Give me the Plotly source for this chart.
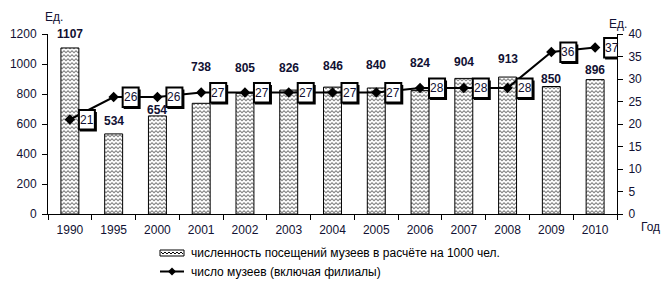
import plotly.graph_objects as go

years = ["1990", "1995", "2000", "2001", "2002", "2003", "2004", "2005",
         "2006", "2007", "2008", "2009", "2010"]
visits = [1107, 534, 654, 738, 805, 826, 846, 840, 824, 904, 913, 850, 896]
museums = [21, 26, 26, 27, 27, 27, 27, 27, 28, 28, 28, 36, 37]
bar_name = "численность посещений музеев в расчёте на 1000 чел."
line_name = "число музеев (включая филиалы)"

# vertical pixel lift of each bar label above its bar top (layout only)
label_lift = [14, 13, 6, 36, 25, 22, 21, 23, 27, 16, 18, 8, 10]

FONT = "Liberation Sans, Arial, sans-serif"
TXT = "#111133"

# page has an 8px body margin; plot area on screen: x 48..617, y 34..214
def px(x):
    return (x - 48) / 569.0

def py(y):
    return (214 - y) / 180.0

pattern = dict(shape="x", size=5, solidity=0.3, fgcolor="black", bgcolor="white")
try:
    go.bar.marker.Pattern(path="M0,0L2,2L4,0Z", size=4)
    pattern = dict(path="M0,0L2,2L4,0L4,1.5L2,3.5L0,1.5Z", size=4,
                   fgcolor="black", bgcolor="white", solidity=0.5)
except Exception:
    pass

fig = go.Figure()
fig.add_trace(go.Bar(
    x=years, y=visits, name=bar_name, width=0.41, showlegend=False,
    marker=dict(color="white", line=dict(color="black", width=1), pattern=pattern),
))
fig.add_trace(go.Scatter(
    x=years, y=museums, yaxis="y2", name=line_name, showlegend=False,
    mode="lines+markers",
    line=dict(color="black", width=2),
    marker=dict(symbol="diamond", size=8, color="black"),
))

ann = []
shapes = []
for i, (v, lift) in enumerate(zip(visits, label_lift)):
    ann.append(dict(x=i, y=v, xref="x", yref="y", text="<b>%d</b>" % v, showarrow=False,
                    yanchor="middle", yshift=lift,
                    font=dict(family=FONT, size=12, color=TXT)))
for i, m in enumerate(museums):
    shapes.append(dict(type="rect", xref="x", yref="y2", xsizemode="pixel",
                       ysizemode="pixel", xanchor=i, yanchor=m,
                       x0=10, x1=27, y0=-12, y1=7.5,
                       fillcolor="black", line=dict(width=0)))
    shapes.append(dict(type="rect", xref="x", yref="y2", xsizemode="pixel",
                       ysizemode="pixel", xanchor=i, yanchor=m,
                       x0=9, x1=25, y0=-10, y1=9.5,
                       fillcolor="white", line=dict(color="black", width=2)))
    ann.append(dict(x=i, y=m, xref="x", yref="y2", text=str(m), showarrow=False,
                    xshift=17, yshift=0,
                    font=dict(family=FONT, size=12, color=TXT)))

for txt, xx, yy in [("Ед.", 54, 17), ("Ед.", 618, 24)]:
    ann.append(dict(x=px(xx), y=py(yy), xref="paper", yref="paper",
                    text=txt, showarrow=False, xanchor="center", yanchor="middle",
                    font=dict(family=FONT, size=12, color=TXT)))
ann.append(dict(x=px(639), y=py(227), xref="paper", yref="paper",
                text="Год", showarrow=False, xanchor="left", yanchor="middle",
                font=dict(family=FONT, size=12, color=TXT)))

# custom legend
shapes.append(dict(type="rect", xref="paper", yref="paper",
                   x0=px(160), x1=px(184), y0=py(256), y1=py(250),
                   fillcolor="white", line=dict(color="black", width=1)))
zz = "M%f,%f" % (px(161), py(252))
k = 0
for xx in range(163, 184, 2):
    zz += " L%f,%f" % (px(xx), py(254 if k % 2 == 0 else 252))
    k += 1
shapes.append(dict(type="path", xref="paper", yref="paper", path=zz,
                   line=dict(color="black", width=1)))
shapes.append(dict(type="line", xref="paper", yref="paper",
                   x0=px(160), x1=px(184), y0=py(271.5), y1=py(271.5),
                   line=dict(color="black", width=2)))
shapes.append(dict(type="path", xref="paper", yref="paper",
                   path="M%f,%f L%f,%f L%f,%f L%f,%f Z" % (
                       px(172), py(267.5), px(176), py(271.5),
                       px(172), py(275.5), px(168), py(271.5)),
                   fillcolor="black", line=dict(color="black", width=0)))
ann.append(dict(x=px(189), y=py(253), xref="paper", yref="paper", text=bar_name,
                showarrow=False, xanchor="left", yanchor="middle",
                font=dict(family=FONT, size=12, color="black")))
ann.append(dict(x=px(189), y=py(271.5), xref="paper", yref="paper", text=line_name,
                showarrow=False, xanchor="left", yanchor="middle",
                font=dict(family=FONT, size=12, color="black")))

fig.update_layout(
    width=663, height=274,
    margin=dict(l=40, r=54, t=26, b=68, autoexpand=False),
    paper_bgcolor="white", plot_bgcolor="white",
    font=dict(family=FONT, size=12, color=TXT),
    showlegend=False,
    xaxis=dict(type="category", range=[-0.5, 12.5], showline=True, linecolor="black",
               linewidth=1, ticks="outside", ticklen=5, tickcolor="black",
               tickson="boundaries", showgrid=False, ticklabelstandoff=5, tickangle=0,
               automargin=False,
               tickfont=dict(family=FONT, size=12, color=TXT)),
    yaxis=dict(range=[0, 1200], dtick=200, showline=True, linecolor="black",
               linewidth=1, ticks="outside", ticklen=5, tickcolor="black",
               showgrid=False, zeroline=False, ticklabelstandoff=3, automargin=False,
               tickfont=dict(family=FONT, size=12, color=TXT)),
    yaxis2=dict(range=[0, 40], dtick=5, overlaying="y", side="right", showline=True,
                linecolor="black", linewidth=1, ticks="outside", ticklen=5,
                tickcolor="black", showgrid=False, zeroline=False, ticklabelstandoff=3,
                automargin=False,
                tickfont=dict(family=FONT, size=12, color=TXT)),
    annotations=ann,
    shapes=shapes,
)

fig.write_html("out.html")
